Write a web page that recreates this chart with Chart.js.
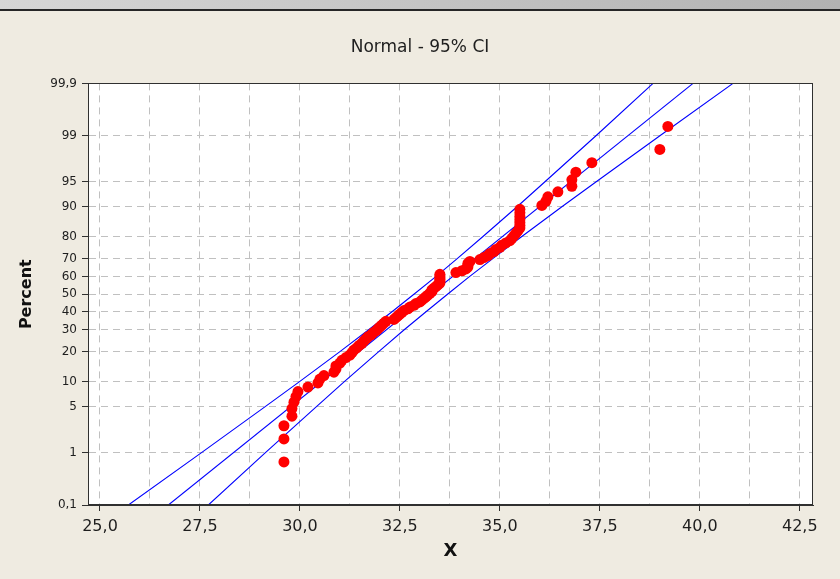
<!DOCTYPE html>
<html>
<head>
<meta charset="utf-8">
<script src="https://cdn.jsdelivr.net/npm/chart.js@4.4.1/dist/chart.umd.min.js"></script>
<style>
  html, body { margin: 0; padding: 0; background: #efebe1; overflow: hidden; }
  #wrap { position: absolute; left: 0; top: 0; width: 840px; height: 579px; }
  #topbar { position: absolute; left: 0; top: 0; width: 840px; height: 9px;
            background: linear-gradient(to right, #d6d6d6, #b2b2b2); border-bottom: 2px solid #262626; }
</style>
</head>
<body>
<div id="wrap"><canvas id="probChart" width="840" height="579"></canvas></div>
<div id="topbar"></div>
<script>
// probability axis ticks (percent)
const percentTicks = [0.1, 1, 5, 10, 20, 30, 40, 50, 60, 70, 80, 90, 95, 99, 99.9];
const percentLabels = ['0,1', '1', '5', '10', '20', '30', '40', '50', '60', '70', '80', '90', '95', '99', '99,9'];

// x axis grid / labels
const xGridValues = [25, 26.25, 27.5, 28.75, 30, 31.25, 32.5, 33.75, 35, 36.25, 37.5, 38.75, 40, 41.25, 42.5];
const xLabels = ['25,0', '', '27,5', '', '30,0', '', '32,5', '', '35,0', '', '37,5', '', '40,0', '', '42,5'];

// sorted sample values (n = 100)
const sampleX = [
  29.6, 29.6, 29.6, 29.8, 29.8, 29.85, 29.9, 29.95, 30.2, 30.45,
  30.5, 30.6, 30.85, 30.9, 30.9, 31.0, 31.05, 31.15, 31.25, 31.3,
  31.35, 31.42, 31.48, 31.55, 31.6, 31.65, 31.7, 31.78, 31.83, 31.9,
  31.95, 32.0, 32.05, 32.1, 32.15, 32.35, 32.4, 32.45, 32.5, 32.55,
  32.6, 32.7, 32.75, 32.85, 32.9, 33.0, 33.05, 33.1, 33.15, 33.2,
  33.25, 33.3, 33.3, 33.35, 33.4, 33.45, 33.5, 33.5, 33.5, 33.5,
  33.5, 33.5, 33.9, 34.05, 34.15, 34.2, 34.2, 34.2, 34.25, 34.5,
  34.6, 34.7, 34.75, 34.85, 34.9, 35.0, 35.05, 35.15, 35.25, 35.3,
  35.35, 35.4, 35.45, 35.5, 35.5, 35.5, 35.5, 35.5, 35.5, 35.5,
  36.05, 36.15, 36.2, 36.45, 36.8, 36.8, 36.9, 37.3, 39.0, 39.2
];

// fitted line and 95% CI, x values read at the percent ticks
const fitPercent = [0.1, 99.9];
const fitX = [26.71, 39.83];
const ciLowerX = [25.71, 27.53, 29.14, 29.99, 31.00, 31.71, 32.31, 32.85, 33.39, 33.94, 34.57, 35.43, 36.12, 37.41, 38.83];
const ciUpperX = [27.71, 29.13, 30.42, 31.11, 31.97, 32.60, 33.16, 33.69, 34.23, 34.83, 35.54, 36.55, 37.40, 39.01, 40.83];

// inverse normal CDF (Acklam)
function probit(p) {
  const a = [-39.69683028665376, 220.9460984245205, -275.9285104469687, 138.3577518672690, -30.66479806614716, 2.506628277459239];
  const b = [-54.47609879822406, 161.5858368580409, -155.6989798598866, 66.80131188771972, -13.28068155288572];
  const c = [-0.007784894002430293, -0.3223964580411365, -2.400758277161838, -2.549732539343734, 4.374664141464968, 2.938163982698783];
  const d = [0.007784695709041462, 0.3224671290700398, 2.445134137142996, 3.754408661907416];
  const pl = 0.02425;
  let q, r;
  if (p < pl) {
    q = Math.sqrt(-2 * Math.log(p));
    return (((((c[0]*q+c[1])*q+c[2])*q+c[3])*q+c[4])*q+c[5]) / ((((d[0]*q+d[1])*q+d[2])*q+d[3])*q+1);
  } else if (p <= 1 - pl) {
    q = p - 0.5; r = q * q;
    return (((((a[0]*r+a[1])*r+a[2])*r+a[3])*r+a[4])*r+a[5])*q / (((((b[0]*r+b[1])*r+b[2])*r+b[3])*r+b[4])*r+1);
  }
  q = Math.sqrt(-2 * Math.log(1 - p));
  return -(((((c[0]*q+c[1])*q+c[2])*q+c[3])*q+c[4])*q+c[5]) / ((((d[0]*q+d[1])*q+d[2])*q+d[3])*q+1);
}

const n = sampleX.length;
const pointData = sampleX.map((x, i) => ({ x: x, y: probit((i + 1 - 0.3) / (n + 0.4)) }));
const fitData = fitX.map((x, i) => ({ x: x, y: probit(fitPercent[i] / 100) }));
const lowerData = ciLowerX.map((x, i) => ({ x: x, y: probit(percentTicks[i] / 100) }));
const upperData = ciUpperX.map((x, i) => ({ x: x, y: probit(percentTicks[i] / 100) }));

const plotFrame = {
  id: 'plotFrame',
  beforeDraw(chart) {
    const { ctx, chartArea: a } = chart;
    ctx.save();
    ctx.fillStyle = '#ffffff';
    ctx.fillRect(a.left, a.top, a.right - a.left, a.bottom - a.top);
    ctx.restore();
  },
  afterDraw(chart) {
    const { ctx, chartArea: a } = chart;
    ctx.save();
    ctx.strokeStyle = '#303030';
    ctx.lineWidth = 1;
    ctx.strokeRect(Math.round(a.left) + 0.5, Math.round(a.top) + 0.5, Math.round(a.right - a.left) - 1, Math.round(a.bottom - a.top) - 1);
    ctx.restore();
  }
};

const lineStyle = { showLine: true, borderColor: '#0000ff', borderWidth: 1.1, pointRadius: 0, fill: false, tension: 0 };
const probMin = probit(percentTicks[0] / 100);
const probMax = probit(percentTicks[percentTicks.length - 1] / 100);

new Chart(document.getElementById('probChart'), {
  type: 'scatter',
  data: {
    datasets: [
      { label: 'Data', data: pointData, backgroundColor: '#ff0000', borderColor: '#ff0000', borderWidth: 0, pointRadius: 5.5 },
      Object.assign({ label: 'Fit', data: fitData }, lineStyle),
      Object.assign({ label: 'Lower', data: lowerData }, lineStyle),
      Object.assign({ label: 'Upper', data: upperData }, lineStyle)
    ]
  },
  options: {
    responsive: false,
    animation: false,
    events: [],
    layout: { padding: 0 },
    plugins: {
      legend: { display: false },
      tooltip: { enabled: false },
      title: {
        display: true,
        text: 'Normal - 95% CI',
        color: '#1e1e1e',
        font: { family: 'DejaVu Sans', size: 17, weight: 'normal' },
        padding: { top: 37, bottom: 26 }
      }
    },
    scales: {
      x: {
        type: 'linear',
        min: 24.7,
        max: 42.83,
        afterBuildTicks: (scale) => { scale.ticks = xGridValues.map(v => ({ value: v })); },
        afterFit: (scale) => { scale.height = 74; },
        ticks: {
          autoSkip: false,
          maxRotation: 0,
          padding: 6,
          color: '#1e1e1e',
          font: { family: 'DejaVu Sans', size: 16 },
          callback: (value, index) => xLabels[index]
        },
        grid: {
          color: '#c0c0c0',
          tickLength: 6,
          tickColor: (ctx) => (ctx.index !== undefined && xLabels[ctx.index]) ? '#303030' : 'rgba(0,0,0,0)'
        },
        border: { display: true, color: '#303030', width: 1, dash: [7, 5] },
        title: {
          display: true,
          text: 'X',
          color: '#111111',
          font: { family: 'DejaVu Sans', size: 18, weight: 'bold' },
          padding: { top: 0, bottom: 17 }
        }
      },
      y: {
        type: 'linear',
        min: probMin,
        max: probMax,
        afterBuildTicks: (scale) => { scale.ticks = percentTicks.map(p => ({ value: probit(p / 100) })); },
        afterFit: (scale) => { scale.width = 88; },
        ticks: {
          autoSkip: false,
          padding: 5,
          color: '#1e1e1e',
          font: { family: 'DejaVu Sans', size: 12 },
          callback: (value, index) => percentLabels[index]
        },
        grid: {
          color: '#c0c0c0',
          tickLength: 6,
          tickColor: '#303030'
        },
        border: { display: true, color: '#303030', width: 1, dash: [7, 5] },
        title: {
          display: true,
          text: 'Percent',
          color: '#111111',
          font: { family: 'DejaVu Sans', size: 16, weight: 'bold' },
          padding: { top: 17, bottom: 0 }
        }
      },
      // empty right margin so the title centres on the whole window
      yRight: {
        type: 'linear',
        position: 'right',
        min: probMin,
        max: probMax,
        afterFit: (scale) => { scale.width = 27; },
        ticks: { display: false },
        grid: { display: false, drawOnChartArea: false },
        border: { display: false }
      }
    }
  },
  plugins: [plotFrame]
});
</script>
</body>
</html>
